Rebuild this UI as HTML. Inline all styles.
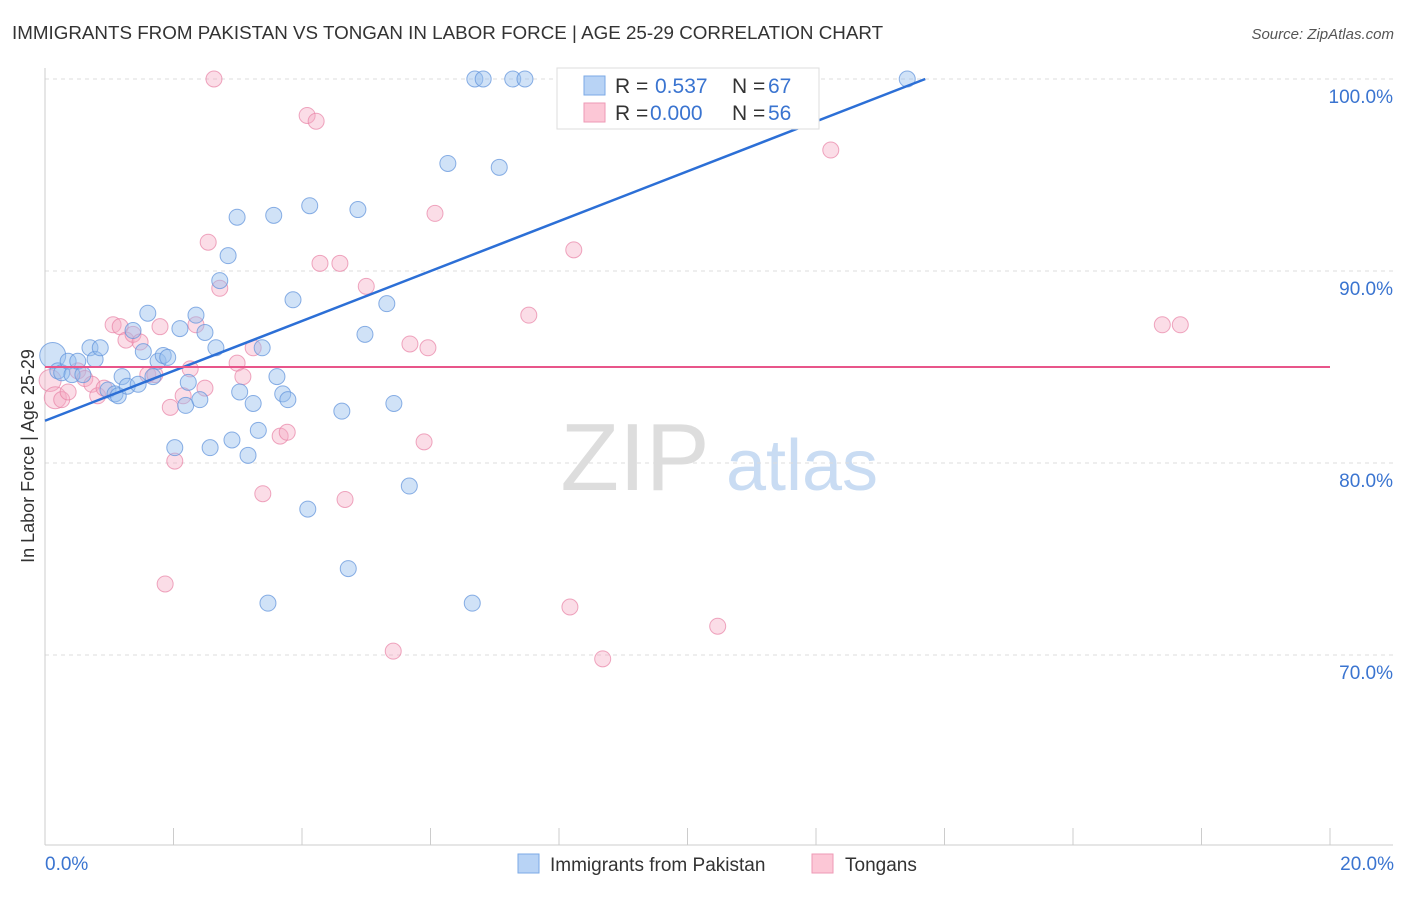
<!DOCTYPE html>
<html><head><meta charset="utf-8"><style>
body{margin:0;background:#fff;font-family:"Liberation Sans",sans-serif}
svg text{font-family:"Liberation Sans",sans-serif}
</style></head><body>
<svg id="c" width="1406" height="892" xmlns="http://www.w3.org/2000/svg">
<text x="12" y="39" font-size="18.8" fill="#333">IMMIGRANTS FROM PAKISTAN VS TONGAN IN LABOR FORCE | AGE 25-29 CORRELATION CHART</text>
<text x="1394" y="39" font-size="15" fill="#555" font-style="italic" text-anchor="end">Source: ZipAtlas.com</text>
<text x="0" y="0" transform="translate(34,456) rotate(-90)" font-size="18" fill="#333" text-anchor="middle">In Labor Force | Age 25-29</text>
<g><text x="635" y="490" font-size="96" fill="#ddd" font-family="Liberation Serif" text-anchor="middle">ZIP</text><text x="802" y="490" font-size="72" fill="#c9dcf3" text-anchor="middle">atlas</text></g>
<g id="grid"></g><g id="ticks"></g><g id="pts"></g><g id="lines"></g>
<g>
<rect x="557" y="68" width="262" height="61" fill="#fff" stroke="#ddd"/>
<rect x="584" y="76" width="21" height="19" fill="#b8d3f5" stroke="#7ba9e6"/>
<rect x="584" y="103" width="21" height="19" fill="#fcc7d6" stroke="#ee9ab5"/>
<text x="615" y="93" font-size="21" fill="#333">R =</text><text x="655" y="93" font-size="21" fill="#3a74d0">0.537</text>
<text x="732" y="93" font-size="21" fill="#333">N =</text><text x="768" y="93" font-size="21" fill="#3a74d0">67</text>
<text x="615" y="120" font-size="21" fill="#333">R =</text><text x="650" y="120" font-size="21" fill="#3a74d0">0.000</text>
<text x="732" y="120" font-size="21" fill="#333">N =</text><text x="768" y="120" font-size="21" fill="#3a74d0">56</text>
</g>
<g>
<rect x="518" y="854" width="21" height="19" fill="#b8d3f5" stroke="#7ba9e6"/>
<text x="550" y="871" font-size="19" fill="#333">Immigrants from Pakistan</text>
<rect x="812" y="854" width="21" height="19" fill="#fcc7d6" stroke="#ee9ab5"/>
<text x="845" y="871" font-size="19" fill="#333">Tongans</text>
</g>
</svg>
<script>
const blueX=[0.12,0.20,0.26,0.36,0.42,0.51,0.59,0.70,0.78,0.86,0.98,1.09,1.14,1.20,1.28,1.37,1.45,1.53,1.60,1.68,1.76,1.84,1.91,2.02,2.10,2.19,2.23,2.35,2.41,2.49,2.57,2.66,2.72,2.85,2.91,2.99,3.03,3.16,3.24,3.32,3.38,3.56,3.61,3.70,3.78,3.86,4.09,4.12,3.47,4.62,4.72,4.87,4.98,5.32,5.43,5.67,6.27,6.65,6.69,6.82,7.07,7.28,7.47,13.42];
const blueY=[85.6,84.8,84.7,85.3,84.6,85.3,84.6,86.0,85.4,86.0,83.8,83.6,83.5,84.5,84.0,86.9,84.1,85.8,87.8,84.5,85.3,85.6,85.5,80.8,87.0,83.0,84.2,87.7,83.3,86.8,80.8,86.0,89.5,90.8,81.2,92.8,83.7,80.4,83.1,81.7,86.0,92.9,84.5,83.6,83.3,88.5,77.6,93.4,72.7,82.7,74.5,93.2,86.7,88.3,83.1,78.8,95.6,72.7,100,100,95.4,100,100,100];
const pinkX=[0.08,0.16,0.26,0.36,0.51,0.62,0.73,0.82,0.92,1.06,1.17,1.26,1.37,1.48,1.60,1.71,1.79,1.87,1.95,2.02,2.15,2.26,2.35,2.49,2.54,2.63,2.72,2.99,3.08,3.24,3.39,3.66,3.77,4.08,4.22,4.28,4.59,4.67,5.00,5.42,5.68,5.90,5.96,6.07,7.53,8.17,8.23,8.68,10.47,12.23,17.39,17.67];
const pinkY=[84.3,83.4,83.3,83.7,84.8,84.4,84.1,83.5,83.9,87.2,87.1,86.4,86.7,86.3,84.6,84.6,87.1,73.7,82.9,80.1,83.5,84.9,87.2,83.9,91.5,100,89.1,85.2,84.5,86.0,78.4,81.4,81.6,98.1,97.8,90.4,90.4,78.1,89.2,70.2,86.2,81.1,86.0,93.0,87.7,72.5,91.1,69.8,71.5,96.3,87.2,87.2];
const yTicks=[100,90,80,70];
const xTickLabels=["0.0%","20.0%"];
const blueLine=[82.2,100];
const pinkLevel=85.0;
const NS="http://www.w3.org/2000/svg";
const sx=v=>45+v*64.25, sy=v=>79+(100-v)*19.2;
function mk(t,a,p){const e=document.createElementNS(NS,t);for(const k in a)e.setAttribute(k,a[k]);p.appendChild(e);return e;}
const grid=document.getElementById('grid'),ticks=document.getElementById('ticks'),pts=document.getElementById('pts'),lines=document.getElementById('lines');
yTicks.forEach(v=>{const l=mk('line',{x1:45,x2:1393,y1:sy(v),y2:sy(v),stroke:'#ddd','stroke-dasharray':'4,4'},grid);


const t=mk('text',{x:1393,y:sy(v)+24,'font-size':19,fill:'#3a74d0','text-anchor':'end'},ticks);t.textContent=v.toFixed(1)+'%';

});
const ax=mk('line',{x1:45,x2:45,y1:68,y2:845,stroke:'#ccc'},grid);


const bx=mk('line',{x1:45,x2:1393,y1:845,y2:845,stroke:'#ccc'},grid);


for(let i=0;i<=10;i++){const t=mk('line',{x1:sx(i*2),x2:sx(i*2),y1:828,y2:845,stroke:'#ccc'},ticks);

}
const xl0=mk('text',{x:45,y:870,'font-size':19,fill:'#3a74d0'},ticks);xl0.textContent=xTickLabels[0];


const xl1=mk('text',{x:1394,y:870,'font-size':19,fill:'#3a74d0','text-anchor':'end'},ticks);xl1.textContent=xTickLabels[1];


pinkX.forEach((x,i)=>{const c=mk('circle',{cx:sx(x),cy:sy(pinkY[i]),r:i<2?11:8,fill:'rgba(245,170,196,0.4)',stroke:'rgba(232,130,165,0.7)'},pts);

});
blueX.forEach((x,i)=>{const c=mk('circle',{cx:sx(x),cy:sy(blueY[i]),r:i<1?13:8,fill:'rgba(150,190,238,0.45)',stroke:'rgba(100,150,220,0.75)'},pts);

});
const bl=mk('line',{x1:sx(0),y1:sy(blueLine[0]),x2:sx(13.7),y2:sy(blueLine[1]),stroke:'#2c6fd6','stroke-width':2.5},lines);


const pl=mk('line',{x1:sx(0),y1:sy(pinkLevel),x2:sx(20),y2:sy(pinkLevel),stroke:'#e8558a','stroke-width':2},lines);


</script>
</body></html>
